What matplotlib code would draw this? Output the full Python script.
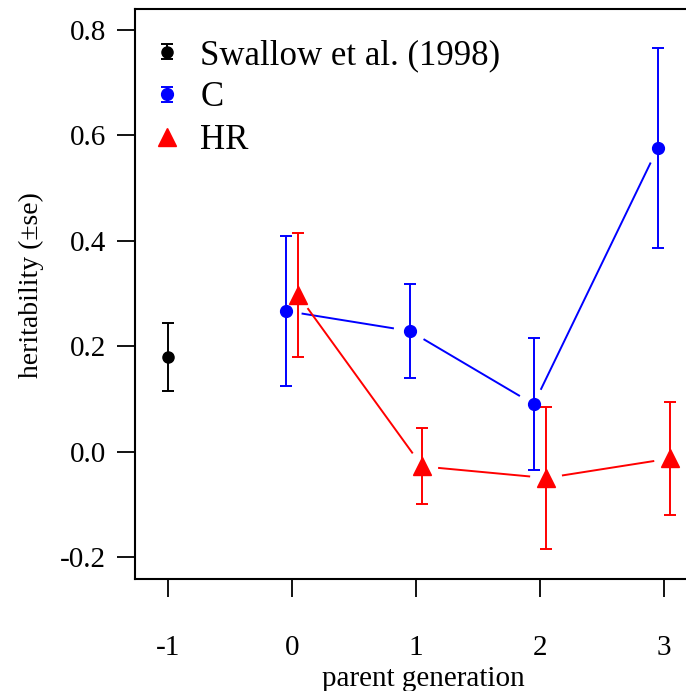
import numpy as np
import matplotlib
matplotlib.use("Agg")
import matplotlib.pyplot as plt
from matplotlib.legend_handler import HandlerErrorbar
from matplotlib.lines import Line2D

plt.rcParams['font.family'] = ['Liberation Serif', 'DejaVu Serif']

# data
swallow_x = [-1]
swallow_y = [0.180]
swallow_se = [0.064]

gen = [0, 1, 2, 3]
c_y = [0.267, 0.229, 0.090, 0.576]
c_se = [0.143, 0.090, 0.125, 0.190]
hr_y = [0.297, -0.028, -0.050, -0.013]
hr_se = [0.118, 0.072, 0.134, 0.108]
offset = 0.05

xticks = [-1, 0, 1, 2, 3]
yticks = [-0.2, 0.0, 0.2, 0.4, 0.6, 0.8]

W, H = 686, 691
fig = plt.figure(figsize=(W / 100, H / 100), dpi=100)
ax = fig.add_axes([135 / W, (H - 579) / H, (711 - 135) / W, (579 - 9) / H])
ax.set_xlim(-1.266, 3.38)
ax.set_ylim(-0.2417, 0.840)

c_x = [g - offset for g in gen]
hr_x = [g + offset for g in gen]


def gapped_line(xs, ys, color, gap=17):
    pts = ax.transData.transform(np.column_stack([xs, ys]))
    inv = ax.transData.inverted()
    for p0, p1 in zip(pts[:-1], pts[1:]):
        d = p1 - p0
        L = np.hypot(*d)
        if L <= 2 * gap:
            continue
        u = d / L
        a = inv.transform(p0 + u * gap)
        b = inv.transform(p1 - u * gap)
        ax.plot([a[0], b[0]], [a[1], b[1]], color=color, lw=1.4, zorder=2)


gapped_line(c_x, c_y, 'blue')
gapped_line(hr_x, hr_y, 'red')

eb_kw = dict(capsize=4.5, elinewidth=1.4, capthick=1.4, linestyle='none', zorder=3)
e_sw = ax.errorbar(swallow_x, swallow_y, yerr=swallow_se, fmt='o', color='black',
                   ms=8, **eb_kw)
e_c = ax.errorbar(c_x, c_y, yerr=c_se, fmt='o', color='blue', ms=8.5, **eb_kw)
e_hr = ax.errorbar(hr_x, hr_y, yerr=hr_se, fmt='^', color='red', ms=13, **eb_kw)

ax.set_xticks(xticks)
ax.set_xticklabels([f"{t:d}" for t in xticks])
ax.set_yticks(yticks)
ax.set_yticklabels([f"{t:.1f}" for t in yticks])

for s in ax.spines.values():
    s.set_linewidth(1.5)
ax.tick_params(axis='both', length=13, width=1.3, labelsize=21)
ax.tick_params(axis='x', pad=27)
ax.tick_params(axis='y', pad=8)

fig.text(423 / W, 1 - 679 / H, 'parent generation', ha='center', va='center', fontsize=21)
fig.text(31 / W, 1 - 285 / H, 'heritability (\u00b1se)', ha='center', va='center',
         rotation=90, fontsize=20)

h_hr = Line2D([], [], color='red', marker='^', ms=13, lw=0)
leg = ax.legend([e_sw, e_c, h_hr], ['Swallow et al. (1998)', 'C', 'HR'],
                loc='upper left', bbox_to_anchor=(-0.016, 0.99), frameon=False,
                fontsize=25, handlelength=1.0, handletextpad=0.45, labelspacing=0.27,
                borderaxespad=0.3,
                handler_map={type(e_sw): HandlerErrorbar(yerr_size=0.22)})

fig.savefig('out.png', dpi=100)
